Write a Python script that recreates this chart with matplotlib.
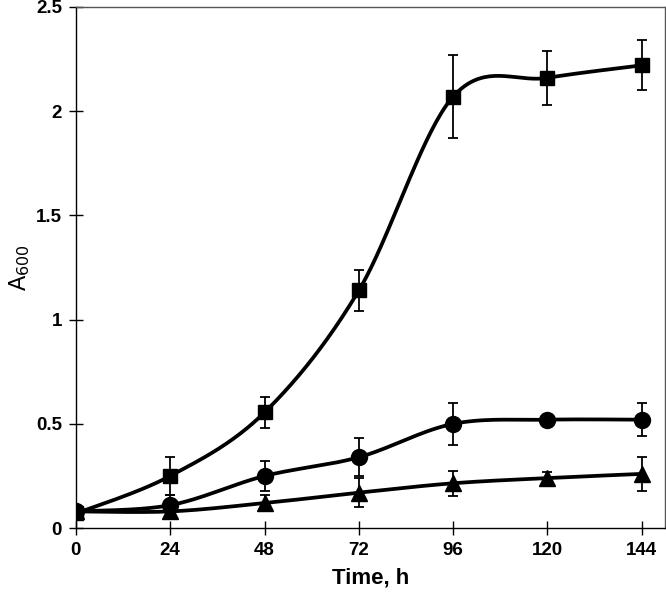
import matplotlib.pyplot as plt
import numpy as np

plt.rcParams['font.family'] = ['Liberation Sans', 'DejaVu Sans']

# sampling times (h)
time_h = [0, 24, 48, 72, 96, 120, 144]

# A600 readings
square_y = [0.07, 0.25, 0.555, 1.14, 2.07, 2.16, 2.22]
square_err = [0.0, 0.09, 0.075, 0.10, 0.20, 0.13, 0.12]

circle_y = [0.08, 0.11, 0.25, 0.34, 0.50, 0.52, 0.52]
circle_err = [0.0, 0.05, 0.07, 0.09, 0.10, 0.015, 0.08]

triangle_y = [0.08, 0.08, 0.12, 0.17, 0.215, 0.24, 0.26]
triangle_err = [0.0, 0.02, 0.04, 0.07, 0.06, 0.03, 0.08]

x_ticks = [0, 24, 48, 72, 96, 120, 144]
y_ticks = [0, 0.5, 1, 1.5, 2, 2.5]
y_labels = ['0', '0.5', '1', '1.5', '2', '2.5']


def smooth(x, y, n=40):
    # Excel-like smoothed line: Catmull-Rom through the points as cubic Beziers
    x = np.asarray(x, float)
    y = np.asarray(y, float)
    px = np.concatenate([[x[0]], x, [x[-1]]])
    py = np.concatenate([[y[0]], y, [y[-1]]])
    xs, ys = [], []
    t = np.linspace(0, 1, n)
    for i in range(1, len(px) - 2):
        p0 = np.array([px[i], py[i]])
        p3 = np.array([px[i + 1], py[i + 1]])
        p1 = p0 + (np.array([px[i + 1], py[i + 1]]) - np.array([px[i - 1], py[i - 1]])) / 6
        p2 = p3 - (np.array([px[i + 2], py[i + 2]]) - np.array([px[i], py[i]])) / 6
        b = ((1 - t) ** 3)[:, None] * p0 + (3 * (1 - t) ** 2 * t)[:, None] * p1 \
            + (3 * (1 - t) * t ** 2)[:, None] * p2 + (t ** 3)[:, None] * p3
        xs.extend(b[:, 0])
        ys.extend(b[:, 1])
    return xs, ys


fig = plt.figure(figsize=(6.66, 6.07), dpi=100)
ax = fig.add_axes([0.114, 0.130, 0.885, 0.8585])

# drawn bottom to top: circles, triangles, squares
series = [
    (circle_y, circle_err, 'o', 11.5),
    (triangle_y, triangle_err, '^', 11),
    (square_y, square_err, 's', 10.5),
]
for k, (ys, errs, mk, ms) in enumerate(series):
    z = 2 + 3 * k
    ax.errorbar(time_h, ys, yerr=errs, fmt='none', ecolor='black',
                elinewidth=1.3, capsize=3.6, capthick=1.3, zorder=z)
    sx, sy = smooth(time_h, ys)
    ax.plot(sx, sy, color='black', linewidth=2.7, zorder=z + 1)
    ax.plot(time_h, ys, linestyle='none', marker=mk, markersize=ms,
            color='black', zorder=z + 2)

ax.set_xlim(0, 150)
ax.set_ylim(0, 2.5)
ax.set_xticks(x_ticks)
ax.set_yticks(y_ticks)
ax.set_yticklabels(y_labels)
ax.tick_params(direction='inout', length=10, width=1, labelsize=13.5, pad=5)
for lab in ax.get_xticklabels() + ax.get_yticklabels():
    lab.set_fontweight('bold')

for side in ['top', 'right']:
    ax.spines[side].set_color('#555555')
    ax.spines[side].set_linewidth(1)
for side in ['left', 'bottom']:
    ax.spines[side].set_linewidth(1)

ax.set_xlabel('Time, h', fontsize=16, fontweight='bold', labelpad=6)
ax.set_ylabel('A$_{600}$', fontsize=16.5, labelpad=3)

fig.savefig('out.png', dpi=100)
